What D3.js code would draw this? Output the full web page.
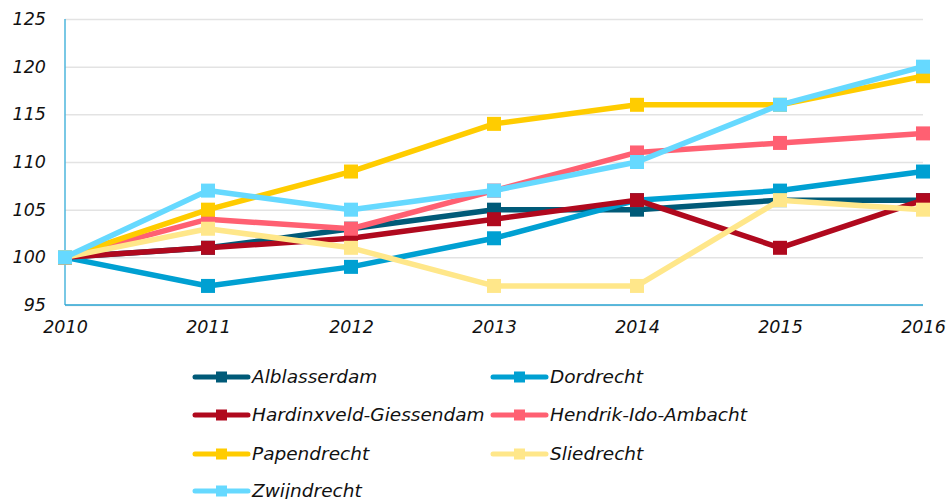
<!DOCTYPE html>
<html>
<head>
<meta charset="utf-8">
<script src="https://cdn.jsdelivr.net/npm/d3@7"></script>
<style>
  body { margin: 0; background: #fff; }
  svg text { font-family: "DejaVu Sans", Verdana, sans-serif; font-style: italic; fill: #111; }
</style>
</head>
<body>
<svg id="chart" width="950" height="499"></svg>
<script>
// Index values (2010 = 100)
const years = ['2010', '2011', '2012', '2013', '2014', '2015', '2016'];
const yTicks = [95, 100, 105, 110, 115, 120, 125];

const alblasserdam = [100, 101, 103, 105, 105, 106, 106];
const dordrecht = [100, 97, 99, 102, 106, 107, 109];
const hardinxveld = [100, 101, 102, 104, 106, 101, 106];
const hendrikIdo = [100, 104, 103, 107, 111, 112, 113];
const papendrecht = [100, 105, 109, 114, 116, 116, 119];
const sliedrecht = [100, 103, 101, 97, 97, 106, 105];
const zwijndrecht = [100, 107, 105, 107, 110, 116, 120];

const seriesNames = ['Alblasserdam', 'Dordrecht', 'Hardinxveld-Giessendam', 'Hendrik-Ido-Ambacht',
  'Papendrecht', 'Sliedrecht', 'Zwijndrecht'];
const seriesValues = [alblasserdam, dordrecht, hardinxveld, hendrikIdo, papendrecht, sliedrecht, zwijndrecht];
const seriesColors = ['#005a78', '#00a0d2', '#b0091e', '#ff6072', '#ffcc00', '#ffe78a', '#66d9ff'];

const series = seriesNames.map((name, i) => ({ name, color: seriesColors[i], values: seriesValues[i] }));

const svg = d3.select('#chart');
const margin = { left: 65, right: 27, top: 19, bottom: 194 };
const width = 950 - margin.left - margin.right;
const height = 499 - margin.top - margin.bottom;

const x = d3.scalePoint().domain(years).range([0, width]);
const y = d3.scaleLinear().domain([95, 125]).range([height, 0]);

const g = svg.append('g').attr('transform', `translate(${margin.left},${margin.top})`);

// Grid
const yGrid = g.append('g').attr('class', 'y-grid')
  .call(d3.axisLeft(y).tickValues(yTicks).tickSize(-width).tickFormat(''));
yGrid.select('.domain').remove();
yGrid.selectAll('line').attr('stroke', '#e3e3e3').attr('stroke-width', 1.5);

// Axes
const yAxis = g.append('g').attr('class', 'y-axis')
  .call(d3.axisLeft(y).tickValues(yTicks).tickSize(0).tickPadding(19));
yAxis.select('.domain').remove();
yAxis.selectAll('text').style('font-size', '17.5px');

const xAxis = g.append('g').attr('class', 'x-axis')
  .attr('transform', `translate(0,${height})`)
  .call(d3.axisBottom(x).tickSize(0).tickPadding(16));
xAxis.select('.domain').remove();
xAxis.selectAll('text').style('font-size', '17.5px');

g.append('line')
  .attr('x1', 0).attr('x2', 0).attr('y1', 0).attr('y2', height)
  .attr('stroke', '#4cb6dc').attr('stroke-width', 1.5);
g.append('line')
  .attr('x1', 0).attr('x2', width).attr('y1', height).attr('y2', height)
  .attr('stroke', '#2aa6d4').attr('stroke-width', 1.5);

// Lines and markers
const line = d3.line()
  .x((d, i) => x(years[i]))
  .y(d => y(d));

const ms = 14;
series.forEach(s => {
  const sg = g.append('g').attr('class', 'series');
  sg.append('path')
    .datum(s.values)
    .attr('d', line)
    .attr('fill', 'none')
    .attr('stroke', s.color)
    .attr('stroke-width', 5.5)
    .attr('stroke-linejoin', 'round');
  sg.selectAll('rect')
    .data(s.values)
    .enter()
    .append('rect')
    .attr('x', (d, i) => x(years[i]) - ms / 2)
    .attr('y', d => y(d) - ms / 2)
    .attr('width', ms)
    .attr('height', ms)
    .attr('fill', s.color);
});

// Legend
const legend = svg.append('g').attr('class', 'legend');
const colX = [193, 491];
const rowY = [377, 415, 454, 491];
series.forEach((s, i) => {
  const lx = colX[i % 2];
  const ly = rowY[Math.floor(i / 2)];
  const item = legend.append('g').attr('transform', `translate(${lx},${ly})`);
  item.append('line')
    .attr('x1', 2).attr('x2', 55).attr('y1', 0).attr('y2', 0)
    .attr('stroke', s.color).attr('stroke-width', 5).attr('stroke-linecap', 'round');
  item.append('rect')
    .attr('x', 23).attr('y', -5.5).attr('width', 11).attr('height', 11)
    .attr('fill', s.color);
  item.append('text')
    .attr('x', 59).attr('y', 0).attr('dy', '0.35em')
    .style('font-size', '18.5px')
    .text(s.name);
});
</script>
</body>
</html>
